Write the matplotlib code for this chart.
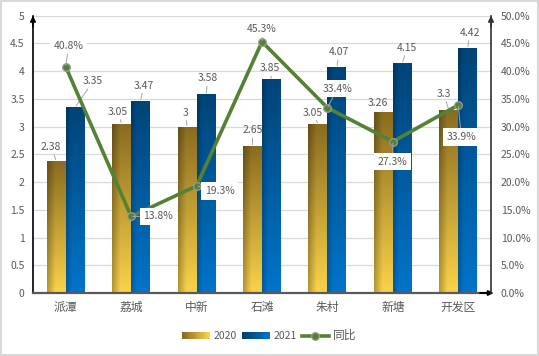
import numpy as np
import matplotlib
matplotlib.use("Agg")
import matplotlib.pyplot as plt
from matplotlib.patches import Rectangle
from matplotlib.legend_handler import HandlerBase
from matplotlib.lines import Line2D
from matplotlib.ticker import FuncFormatter, MultipleLocator

plt.rcParams['font.family'] = ['Noto Sans CJK SC', 'DejaVu Sans']

# ---------------- data ----------------
categories = ["派潭", "荔城", "中新", "石滩", "朱村", "新塘", "开发区"]
values_2020 = [2.38, 3.05, 3.0, 2.65, 3.05, 3.26, 3.3]
values_2021 = [3.35, 3.47, 3.58, 3.85, 4.07, 4.15, 4.42]
yoy_pct = [40.8, 13.8, 19.3, 45.3, 33.4, 27.3, 33.9]
series_names = ["2020", "2021", "同比"]

# label offsets in pixels (layout only)
off_2020 = [(-5, 14), (-4, 12), (-2, 14), (0, 16), (-5, 11), (-6, 9), (-5, 16)]
off_2021 = [(18, 26), (3, 15), (2, 16), (-2, 11), (2, 15), (5, 15), (2, 15)]
off_pct = [(3, 21), (27, 0), (23, -5), (0, 13), (10, 19), (0, -20), (3, -32)]

TXT = '#595959'
GOLD_TOP, GOLD_BOT = np.array([0x8A, 0x6C, 0x20]) / 255, np.array([0xFA, 0xD2, 0x4A]) / 255
BLUE_TOP, BLUE_BOT = np.array([0x00, 0x44, 0x78]) / 255, np.array([0x00, 0x74, 0xCA]) / 255
GREEN = '#548235'

fig = plt.figure(figsize=(5.39, 3.56), dpi=100)
ax = fig.add_axes([33 / 539, 1 - 293 / 356, 458 / 539, 277.3 / 356])
ax2 = ax.twinx()

x = np.arange(len(categories))
w = 0.29
bars1 = ax.bar(x - w / 2, values_2020, w, color='none', zorder=2)
bars2 = ax.bar(x + w / 2, values_2021, w, color='none', zorder=2)


def grad_img(top, bot, lo=0.72, span=0.4, n=64):
    t = np.linspace(0, 1, n)[:, None, None]
    xs = np.linspace(0, 1, n)[None, :, None]
    base = top * (1 - t) + bot * t
    shade = lo + (1 - lo) * np.clip(xs / span, 0, 1)
    return np.clip(base * shade, 0, 1)


img_g = grad_img(GOLD_TOP, GOLD_BOT, lo=0.72, span=0.45)
img_b = grad_img(BLUE_TOP, BLUE_BOT, lo=0.78, span=0.3)
for bars, img in ((bars1, img_g), (bars2, img_b)):
    for b in bars:
        x0, y0 = b.get_x(), b.get_y()
        im = ax.imshow(img, extent=(x0, x0 + b.get_width(), y0, y0 + b.get_height()),
                       origin='upper', aspect='auto', zorder=2, interpolation='bilinear')
        im.set_clip_path(b)

ax.set_xlim(-0.5, len(categories) - 0.5)
ax.set_ylim(0, 5)
ax.set_aspect('auto')
ax2.set_ylim(0, 50)

ax2.plot(x, yoy_pct, color=GREEN, lw=2.6, marker='o', ms=5.5, mfc=GREEN,
         mec='#9a9a9a', mew=0.9, zorder=3)

# grid / spines
ax.yaxis.set_major_locator(MultipleLocator(0.5))
ax2.yaxis.set_major_locator(MultipleLocator(5))
ax.grid(axis='y', color='#d9d9d9', lw=0.9)
ax.set_axisbelow(True)
for a in (ax, ax2):
    a.spines['top'].set_visible(False)
ax.spines['right'].set_visible(False)
ax2.spines['left'].set_visible(False)
ax2.spines['bottom'].set_visible(False)
ax.spines['left'].set_color('black')
ax.spines['left'].set_linewidth(1.2)
ax2.spines['right'].set_color('#333333')
ax2.spines['right'].set_linewidth(1.2)
ax.spines['bottom'].set_color('#595959')
ax.spines['bottom'].set_linewidth(1.6)

# axis arrows
ax.annotate('', xy=(0, 1.01), xytext=(0, 0.95), xycoords='axes fraction',
            arrowprops=dict(arrowstyle='-|>', color='black', lw=1.2, mutation_scale=8))
ax.annotate('', xy=(1, 1.01), xytext=(1, 0.95), xycoords='axes fraction',
            arrowprops=dict(arrowstyle='-|>', color='#333333', lw=1.2, mutation_scale=8))
ax.annotate('', xy=(1.012, 0), xytext=(0.97, 0), xycoords='axes fraction',
            arrowprops=dict(arrowstyle='-|>', color='black', lw=1.4, mutation_scale=7))

ax.set_xticks(x)
ax.set_xticklabels(categories, fontsize=8.5, color=TXT)
ax.tick_params(axis='x', length=0, pad=6)
ax.tick_params(axis='y', length=0, pad=6, labelsize=7.5, labelcolor=TXT)
ax2.tick_params(axis='y', length=0, pad=7, labelsize=7.5, labelcolor=TXT)
ax.yaxis.set_major_formatter(FuncFormatter(lambda v, p: f"{v:g}"))
ax2.yaxis.set_major_formatter(FuncFormatter(lambda v, p: f"{v:.1f}%"))

lead = dict(arrowstyle='-', color='#a6a6a6', lw=0.7, shrinkA=0, shrinkB=1)
for i, v in enumerate(values_2020):
    ax.annotate(f"{v:g}", xy=(x[i] - w / 2, v), xytext=off_2020[i], textcoords='offset pixels',
                ha='center', va='center', fontsize=7.5, color=TXT, arrowprops=lead, zorder=4)
for i, v in enumerate(values_2021):
    ax.annotate(f"{v:g}", xy=(x[i] + w / 2, v), xytext=off_2021[i], textcoords='offset pixels',
                ha='center', va='center', fontsize=7.5, color=TXT, arrowprops=lead, zorder=4)
for i, v in enumerate(yoy_pct):
    ax2.annotate(f"{v:.1f}%", xy=(x[i], v), xytext=off_pct[i], textcoords='offset pixels',
                 ha='center', va='center', fontsize=7.5, color=TXT, arrowprops=lead, zorder=5,
                 bbox=dict(boxstyle='square,pad=0.35', fc='white', ec='none'))


# legend with gradient handles
class GradHandler(HandlerBase):
    def __init__(self, c0, c1):
        super().__init__()
        self.c0, self.c1 = c0, c1

    def create_artists(self, legend, orig, xd, yd, width, height, fontsize, trans):
        n = 24
        arts = []
        for k in range(n):
            t = k / (n - 1)
            c = self.c0 * (1 - t) + self.c1 * t
            arts.append(Rectangle((-xd + width * k / n, -yd), width / n + 0.4, height,
                                  facecolor=c, edgecolor='none', transform=trans))
        return arts


h1 = Rectangle((0, 0), 1, 1)
h2 = Rectangle((0, 0), 1, 1)
h3 = Line2D([], [], color=GREEN, lw=2.6, marker='o', ms=5.5, mfc=GREEN, mec='#9a9a9a', mew=0.9)
leg = fig.legend([h1, h2, h3], series_names, loc='center', bbox_to_anchor=(0.5, 0.057),
                 ncol=3, frameon=False, fontsize=7.5, labelcolor=TXT,
                 handlelength=2.6, handleheight=0.7, handletextpad=0.4, columnspacing=0.5,
                 handler_map={h1: GradHandler(GOLD_TOP, GOLD_BOT), h2: GradHandler(BLUE_TOP * 0.9, BLUE_BOT)})
for t in leg.get_texts():
    t.set_fontsize(7.5)
leg.get_texts()[2].set_fontsize(8.5)

fig.patches.append(Rectangle((0.002, 0.003), 0.996, 0.994, transform=fig.transFigure,
                             fill=False, edgecolor='#d9d9d9', lw=1.5))

fig.savefig("out.png", dpi=100)
